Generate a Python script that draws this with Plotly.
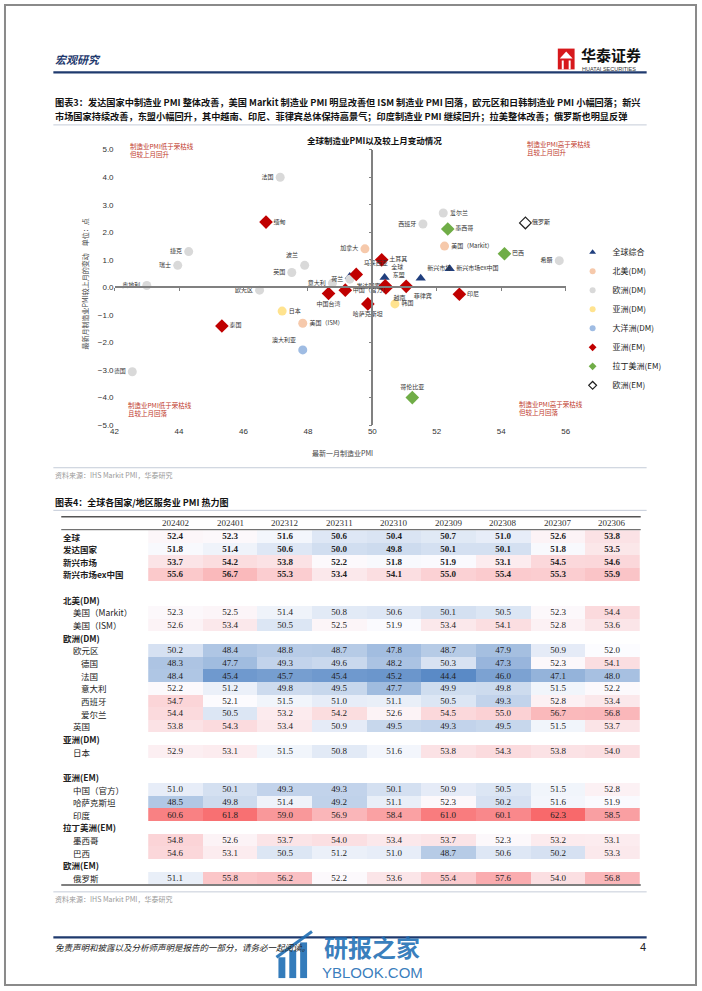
import plotly.graph_objects as go

W, H = 702, 991

# ---------- scatter data: latest manufacturing PMI and m/m change ----------
global_names = ['全球', '发达国家', '新兴市场', '新兴市场ex中国']
global_pmi = [50.38, 49.3, 51.5, 52.4]
global_chg = [0.36, 0.4, 0.33, 0.68]

na_dm_names = ['加拿大', '美国（Markit）', '美国（ISM）']
na_dm_pmi = [49.77, 52.24, 47.84]
na_dm_chg = [1.4, 1.5, -1.3]

eu_dm_names = ['法国', '捷克', '瑞士', '奥地利', '欧元区', '英国', '波兰', '意大利',
               '荷兰', '德国', '爱尔兰', '西班牙', '希腊']
eu_dm_pmi = [47.14, 44.3, 43.96, 43.0, 46.5, 47.5, 47.9, 48.76, 49.3, 42.55, 52.2, 51.57, 55.8]
eu_dm_chg = [4.0, 1.3, 0.8, 0.07, -0.1, 0.54, 0.8, 0.15, 0.3, -3.06, 2.7, 2.3, 0.97]

asia_dm_names = ['日本', '韩国']
asia_dm_pmi = [47.2, 50.7]
asia_dm_chg = [-0.86, -0.6]

oce_dm_names = ['澳大利亚']
oce_dm_pmi = [47.84]
oce_dm_chg = [-2.27]

asia_em_names = ['缅甸', '马来西亚', '土耳其', '东盟', '越南', '菲律宾', '印尼',
                 '中国台湾', '中国（官方）', '哈萨克斯坦', '泰国']
asia_em_pmi = [46.7, 49.5, 50.29, 50.4, 50.42, 51.05, 52.7, 48.64, 49.16, 49.86, 45.33]
asia_em_chg = [2.37, 0.47, 1.0, 0.06, -0.02, 0.04, -0.25, -0.22, -0.1, -0.6, -1.4]

latam_em_names = ['墨西哥', '巴西', '哥伦比亚']
latam_em_pmi = [52.34, 54.1, 51.24]
latam_em_chg = [2.12, 1.22, -4.0]

eu_em_names = ['俄罗斯']
eu_em_pmi = [54.75]
eu_em_chg = [2.34]

# ---------- heatmap data: services PMI ----------
months = ['202402', '202401', '202312', '202311', '202310', '202309', '202308', '202307', '202306']

global_svc = [52.4, 52.3, 51.6, 50.6, 50.4, 50.7, 51.0, 52.6, 53.8]
dm_svc = [51.8, 51.4, 50.6, 50.0, 49.8, 50.1, 50.1, 51.8, 53.5]
em_svc = [53.7, 54.2, 53.8, 52.2, 51.8, 51.9, 53.1, 54.5, 54.6]
em_ex_cn_svc = [55.6, 56.7, 55.3, 53.4, 54.1, 55.0, 55.4, 55.3, 55.9]
us_markit_svc = [52.3, 52.5, 51.4, 50.8, 50.6, 50.1, 50.5, 52.3, 54.4]
us_ism_svc = [52.6, 53.4, 50.5, 52.5, 51.9, 53.4, 54.1, 52.8, 53.6]
ez_svc = [50.2, 48.4, 48.8, 48.7, 47.8, 48.7, 47.9, 50.9, 52.0]
de_svc = [48.3, 47.7, 49.3, 49.6, 48.2, 50.3, 47.3, 52.3, 54.1]
fr_svc = [48.4, 45.4, 45.7, 45.4, 45.2, 44.4, 46.0, 47.1, 48.0]
it_svc = [52.2, 51.2, 49.8, 49.5, 47.7, 49.9, 49.8, 51.5, 52.2]
es_svc = [54.7, 52.1, 51.5, 51.0, 51.1, 50.5, 49.3, 52.8, 53.4]
ie_svc = [54.4, 50.5, 53.2, 54.2, 52.6, 54.5, 55.0, 56.7, 56.8]
uk_svc = [53.8, 54.3, 53.4, 50.9, 49.5, 49.3, 49.5, 51.5, 53.7]
jp_svc = [52.9, 53.1, 51.5, 50.8, 51.6, 53.8, 54.3, 53.8, 54.0]
cn_svc = [51.0, 50.1, 49.3, 49.3, 50.1, 50.9, 50.5, 51.5, 52.8]
kz_svc = [48.5, 49.8, 51.4, 49.2, 51.1, 52.3, 50.2, 51.6, 51.9]
in_svc = [60.6, 61.8, 59.0, 56.9, 58.4, 61.0, 60.1, 62.3, 58.5]
mx_svc = [54.8, 52.6, 53.7, 54.0, 53.4, 53.7, 52.3, 53.2, 53.1]
br_svc = [54.6, 53.1, 50.5, 51.2, 51.0, 48.7, 50.6, 50.2, 53.3]
ru_svc = [51.1, 55.8, 56.2, 52.2, 53.6, 55.4, 57.6, 54.0, 56.8]

# (label, values, indent level, bold)
table_rows = [
    ('全球', global_svc, 0, True),
    ('发达国家', dm_svc, 0, True),
    ('新兴市场', em_svc, 0, True),
    ('新兴市场ex中国', em_ex_cn_svc, 0, True),
    ('', None, 0, False),
    ('北美(DM)', None, 0, True),
    ('美国（Markit）', us_markit_svc, 1, False),
    ('美国（ISM）', us_ism_svc, 1, False),
    ('欧洲(DM)', None, 0, True),
    ('欧元区', ez_svc, 1, False),
    ('德国', de_svc, 2, False),
    ('法国', fr_svc, 2, False),
    ('意大利', it_svc, 2, False),
    ('西班牙', es_svc, 2, False),
    ('爱尔兰', ie_svc, 2, False),
    ('英国', uk_svc, 1, False),
    ('亚洲(DM)', None, 0, True),
    ('日本', jp_svc, 1, False),
    ('', None, 0, False),
    ('亚洲(EM)', None, 0, True),
    ('中国（官方）', cn_svc, 1, False),
    ('哈萨克斯坦', kz_svc, 1, False),
    ('印度', in_svc, 1, False),
    ('拉丁美洲(EM)', None, 0, True),
    ('墨西哥', mx_svc, 1, False),
    ('巴西', br_svc, 1, False),
    ('欧洲(EM)', None, 0, True),
    ('俄罗斯', ru_svc, 1, False),
]


def px(x):
    return x / W


def py(y):
    return 1 - y / H


CJK = 'Noto Sans CJK SC'

label_pos = {
    '全球': 'top right', '发达国家': 'bottom right', '新兴市场': 'top right',
    '新兴市场ex中国': 'middle right', '加拿大': 'middle left', '美国（Markit）': 'middle right',
    '美国（ISM）': 'middle right', '法国': 'middle left', '捷克': 'middle left',
    '瑞士': 'middle left', '奥地利': 'middle left', '欧元区': 'middle left',
    '英国': 'middle left', '波兰': 'top left', '意大利': 'middle left', '荷兰': 'middle left',
    '德国': 'middle left', '爱尔兰': 'middle right', '西班牙': 'middle left',
    '希腊': 'middle left', '日本': 'middle right', '韩国': 'middle right',
    '澳大利亚': 'top left', '缅甸': 'middle right', '马来西亚': 'top right',
    '土耳其': 'middle right', '东盟': 'top right', '越南': 'bottom right',
    '菲律宾': 'bottom right', '印尼': 'middle right', '中国台湾': 'bottom center',
    '中国（官方）': 'middle right', '哈萨克斯坦': 'bottom center', '泰国': 'middle right',
    '墨西哥': 'middle right', '巴西': 'middle right', '哥伦比亚': 'top center',
    '俄罗斯': 'middle right',
}

groups = [
    ('全球综合', global_names, global_pmi, global_chg,
     dict(symbol='triangle-up', size=9, color='#203F7E')),
    ('北美(DM)', na_dm_names, na_dm_pmi, na_dm_chg,
     dict(symbol='circle', size=9, color='#F6C9AB')),
    ('欧洲(DM)', eu_dm_names, eu_dm_pmi, eu_dm_chg,
     dict(symbol='circle', size=9, color='#D9D9D9')),
    ('亚洲(DM)', asia_dm_names, asia_dm_pmi, asia_dm_chg,
     dict(symbol='circle', size=9, color='#FFE38F')),
    ('大洋洲(DM)', oce_dm_names, oce_dm_pmi, oce_dm_chg,
     dict(symbol='circle', size=9, color='#9FBCE3')),
    ('亚洲(EM)', asia_em_names, asia_em_pmi, asia_em_chg,
     dict(symbol='diamond', size=10.5, color='#C00000')),
    ('拉丁美洲(EM)', latam_em_names, latam_em_pmi, latam_em_chg,
     dict(symbol='diamond', size=10.5, color='#70AD47')),
    ('欧洲(EM)', eu_em_names, eu_em_pmi, eu_em_chg,
     dict(symbol='diamond', size=9, color='white', line=dict(color='#222', width=1.2))),
]

fig = go.Figure()

for gname, names, xs, ys, mk in groups:
    fig.add_trace(go.Scatter(
        x=xs, y=ys, mode='markers+text', text=names,
        textposition=[label_pos[n] for n in names],
        textfont=dict(family=CJK, size=6, color='#333'),
        marker=mk, showlegend=False, hoverinfo='x+y+text',
        xaxis='x', yaxis='y',
    ))
    # legend-only entry
    fig.add_trace(go.Scatter(
        x=[None], y=[None], mode='markers', name=gname,
        marker=dict(mk, size=6), xaxis='x', yaxis='y',
    ))

# crossing axes (line + ticks) at PMI 50 and change 0
fig.add_trace(go.Scatter(x=[None], y=[None], xaxis='x3', yaxis='y3',
                         showlegend=False, hoverinfo='skip'))

# ---------- heatmap ----------
z, txt, ys_idx = [], [], []
for i, (lab, vals, ind, bold) in enumerate(table_rows):
    ys_idx.append(i)
    if vals is None:
        z.append([None] * len(months))
        txt.append([''] * len(months))
    else:
        z.append(vals)
        fmt = '<b>{:.1f}</b>' if bold else '{:.1f}'
        txt.append([fmt.format(v) for v in vals])

col_idx = list(range(len(months)))
zmin, zmid, zmax = 44.4, 52.0, 62.3
fig.add_trace(go.Heatmap(
    x=col_idx, y=ys_idx, z=z, text=txt, texttemplate='%{text}',
    textfont=dict(family='Liberation Serif', size=9, color='#222'),
    colorscale=[[0, '#5A8AC6'], [(zmid - zmin) / (zmax - zmin), '#FCFCFF'], [1, '#F8696B']],
    zmin=zmin, zmax=zmax, showscale=False, xgap=0, ygap=0,
    xaxis='x2', yaxis='y2', hoverinfo='skip',
))

annotations = []
shapes = []

# table row labels
for i, (lab, vals, ind, bold) in enumerate(table_rows):
    if not lab:
        continue
    annotations.append(dict(
        x=px(58 + [0, 10, 18][ind]), xref='paper', y=i, yref='y2',
        text=f'<b>{lab}</b>' if bold else lab, xanchor='left',
        font=dict(family=CJK, size=8.5, color='#222'),
    ))
# table header
for i, m in enumerate(months):
    annotations.append(dict(
        x=i, xref='x2', y=py(524), text=m,
        font=dict(family='Liberation Serif', size=9, color='#333'),
    ))

# scatter texts
annotations += [
    dict(x=px(375), y=py(137), text='<b>全球制造业PMI以及较上月变动情况</b>',
         font=dict(family=CJK, size=8.5, color='#111')),
    dict(x=px(82), y=py(282), text='最新月制造业PMI较上月的变动　单位：点', textangle=-90,
         font=dict(family=CJK, size=7, color='#444')),
    dict(x=px(343), y=py(453), text='最新一月制造业PMI',
         font=dict(family=CJK, size=7, color='#444')),
    dict(x=px(126), y=py(147.5), xanchor='left', align='left',
         text='制造业PMI低于荣枯线<br>但较上月回升', font=dict(family=CJK, size=6.5, color='#C0392B')),
    dict(x=px(528), y=py(145.5), xanchor='left', align='left',
         text='制造业PMI高于荣枯线<br>且较上月回升', font=dict(family=CJK, size=6.5, color='#C0392B')),
    dict(x=px(124), y=py(408.5), xanchor='left', align='left',
         text='制造业PMI低于荣枯线<br>且较上月回落', font=dict(family=CJK, size=6.5, color='#C0392B')),
    dict(x=px(520), y=py(407.5), xanchor='left', align='left',
         text='制造业PMI高于荣枯线<br>但较上月回落', font=dict(family=CJK, size=6.5, color='#C0392B')),
]

# page texts
caption3 = ('<b>图表3：发达国家中制造业 PMI 整体改善，美国 Markit 制造业 PMI 明显改善但 ISM 制造业 PMI 回落，'
            '欧元区和日韩制造业 PMI 小幅回落；新兴</b>')
caption3b = ('<b>市场国家持续改善，东盟小幅回升，其中越南、印尼、菲律宾总体保持高景气；'
             '印度制造业 PMI 继续回升；拉美整体改善；俄罗斯也明显反弹</b>')
annotations += [
    dict(x=px(50), y=py(56), xanchor='left', text='<b><i>宏观研究</i></b>',
         font=dict(family=CJK, size=11, color='#1F3A6E')),
    dict(x=px(582), y=py(51), xanchor='left', text='<b>华泰证券</b>',
         font=dict(family=CJK, size=15, color='#111')),
    dict(x=px(583), y=py(66), xanchor='left', text='HUATAI SECURITIES',
         font=dict(family='Liberation Sans', size=5.5, color='#333')),
    dict(x=px(50), y=py(99), xanchor='left', text=caption3,
         font=dict(family=CJK, size=9.2, color='#111')),
    dict(x=px(50), y=py(113), xanchor='left', text=caption3b,
         font=dict(family=CJK, size=9.2, color='#111')),
    dict(x=px(50), y=py(475), xanchor='left', text='资料来源：IHS Markit PMI，华泰研究',
         font=dict(family=CJK, size=7, color='#999')),
    dict(x=px(50), y=py(503), xanchor='left', text='<b>图表4：全球各国家/地区服务业 PMI 热力图</b>',
         font=dict(family=CJK, size=9, color='#111')),
    dict(x=px(50), y=py(903), xanchor='left', text='资料来源：IHS Markit PMI，华泰研究',
         font=dict(family=CJK, size=7, color='#999')),
    dict(x=px(50), y=py(952), xanchor='left', text='<i>免责声明和披露以及分析师声明是报告的一部分，请务必一起阅读。</i>',
         font=dict(family=CJK, size=8.5, color='#222')),
    dict(x=px(652), y=py(952), xanchor='right', text='4',
         font=dict(family='Liberation Sans', size=11, color='#222')),
    dict(x=px(373), y=py(951), text='<b>研报之家</b>',
         font=dict(family=CJK, size=24, color='rgba(30,110,180,0.9)')),
    dict(x=px(373), y=py(977), text='YBLOOK.COM',
         font=dict(family='Liberation Sans', size=15, color='rgba(30,110,180,0.9)')),
]
for a in annotations:
    a.setdefault('xref', 'paper')
    a.setdefault('yref', 'paper')
    a.setdefault('xanchor', 'center')
    a.setdefault('yanchor', 'middle')
    a.setdefault('showarrow', False)


def hline(y, x0, x1, color, width):
    shapes.append(dict(type='line', xref='paper', yref='paper', x0=px(x0), x1=px(x1),
                       y0=py(y), y1=py(y), line=dict(color=color, width=width)))


def prect(x0, y0, x1, y1, color):
    shapes.append(dict(type='rect', xref='paper', yref='paper', x0=px(x0), x1=px(x1),
                       y0=py(y1), y1=py(y0), fillcolor=color, line=dict(width=0)))


shapes.append(dict(type='rect', xref='paper', yref='paper', x0=px(1), x1=px(701),
                   y0=py(990), y1=py(1), line=dict(color='#8a8a8a', width=2)))
hline(69, 50, 651, '#1F3A6E', 2.2)
hline(122, 50, 651, '#C5CCD8', 1)
hline(468, 50, 651, '#C5CCD8', 1)
hline(511, 50, 651, '#C5CCD8', 1)
hline(517.5, 58, 645, '#555', 1.6)
hline(530.5, 58, 645, '#555', 1)
hline(889, 58, 645, '#555', 1.6)
hline(896, 50, 651, '#C5CCD8', 1)
hline(942, 50, 651, '#1F3A6E', 2.2)
# logo block
prect(561, 45, 578, 66, '#D7191C')
shapes.append(dict(type='path', xref='paper', yref='paper',
                   path=f'M {px(563)},{py(55)} L {px(569.5)},{py(48)} L {px(576)},{py(55)} Z',
                   fillcolor='white', line=dict(width=0)))
prect(565, 57, 567, 66, 'white')
prect(572, 57, 574, 66, 'white')
# watermark icon
wm = 'rgba(30,110,180,0.9)'
prect(278, 962, 285, 983, wm)
prect(289, 955, 296, 983, wm)
prect(300, 947, 307, 983, wm)
shapes.append(dict(type='line', xref='paper', yref='paper', x0=px(276), x1=px(312),
                   y0=py(962), y1=py(936), line=dict(color=wm, width=3)))

sx0, sx1 = px(112), px(569)
sy0, sy1 = py(425), py(147)
tickfont = dict(family='Liberation Sans', size=8, color='#333')

fig.update_layout(
    width=W, height=H, margin=dict(l=0, r=0, t=0, b=0),
    paper_bgcolor='white', plot_bgcolor='rgba(0,0,0,0)',
    xaxis=dict(domain=[sx0, sx1], range=[42, 56], dtick=2, showgrid=False, zeroline=False,
               showline=False, ticks='', tickfont=tickfont, anchor='y'),
    yaxis=dict(domain=[sy0, sy1], range=[-5, 5], dtick=1, tickformat='.1f', showgrid=False,
               zeroline=False, showline=False, ticks='', tickfont=tickfont, anchor='x'),
    xaxis3=dict(overlaying='x', range=[42, 56], dtick=2, anchor='free',
                position=(sy0 + sy1) / 2, showline=True, linecolor='#808080', linewidth=1.5,
                ticks='outside', ticklen=3, tickcolor='#808080', showticklabels=False,
                showgrid=False, zeroline=False),
    yaxis3=dict(overlaying='y', range=[-5, 5], dtick=1, anchor='free',
                position=sx0 + (sx1 - sx0) * 8 / 14, showline=True, linecolor='#808080',
                linewidth=1.5, ticks='outside', ticklen=3, tickcolor='#808080',
                showticklabels=False, showgrid=False, zeroline=False),
    xaxis2=dict(domain=[px(146), px(644)], range=[-0.5, len(months) - 0.5],
                showticklabels=False, showgrid=False, zeroline=False, anchor='y2'),
    yaxis2=dict(domain=[py(888.5), py(531)], range=[len(table_rows) - 0.5, -0.5],
                showticklabels=False, showgrid=False, zeroline=False, anchor='x2'),
    legend=dict(x=px(576), y=py(236), xanchor='left', yanchor='top',
                font=dict(family=CJK, size=8, color='#222'), bgcolor='rgba(0,0,0,0)',
                tracegroupgap=0, itemwidth=30),
    annotations=annotations,
    shapes=shapes,
)

fig.write_html('out.html', config={'displayModeBar': False},
               post_script="document.body.style.margin='0';document.body.style.overflow='hidden';")
